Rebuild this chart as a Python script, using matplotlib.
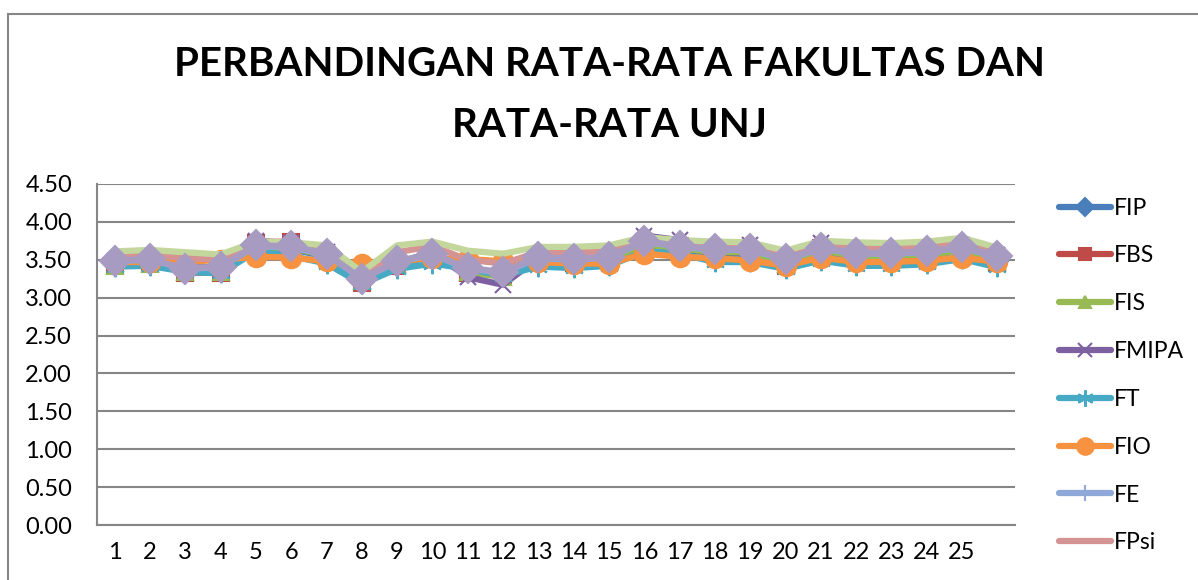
import matplotlib
matplotlib.use("Agg")
import matplotlib.pyplot as plt
from matplotlib.patches import Rectangle

# Data
categories = [str(i) for i in range(1, 26)] + [""]

fip = [3.44, 3.46, 3.35, 3.36, 3.64, 3.64, 3.54, 3.21, 3.43, 3.55, 3.36, 3.30, 3.47,
       3.46, 3.48, 3.70, 3.64, 3.58, 3.58, 3.45, 3.60, 3.52, 3.52, 3.55, 3.62, 3.48]
fbs = [3.43, 3.46, 3.33, 3.33, 3.72, 3.74, 3.56, 3.19, 3.42, 3.58, 3.32, 3.30, 3.50,
       3.46, 3.50, 3.74, 3.68, 3.60, 3.60, 3.42, 3.66, 3.56, 3.56, 3.52, 3.66, 3.46]
fis = [3.42, 3.45, 3.34, 3.34, 3.66, 3.66, 3.55, 3.22, 3.44, 3.56, 3.34, 3.27, 3.50,
       3.48, 3.50, 3.70, 3.65, 3.60, 3.60, 3.45, 3.62, 3.55, 3.55, 3.56, 3.62, 3.48]
fmipa = [3.48, 3.50, 3.40, 3.40, 3.75, 3.72, 3.60, 3.22, 3.46, 3.60, 3.27, 3.17, 3.52,
         3.50, 3.52, 3.82, 3.76, 3.66, 3.70, 3.50, 3.72, 3.60, 3.60, 3.62, 3.70, 3.56]
ft = [3.41, 3.42, 3.34, 3.32, 3.61, 3.55, 3.45, 3.18, 3.38, 3.45, 3.38, 3.29, 3.41,
      3.39, 3.42, 3.61, 3.58, 3.47, 3.47, 3.38, 3.49, 3.42, 3.42, 3.44, 3.51, 3.40]
fio = [3.47, 3.47, 3.47, 3.50, 3.54, 3.53, 3.48, 3.45, 3.49, 3.52, 3.51, 3.48, 3.47,
       3.45, 3.45, 3.58, 3.54, 3.52, 3.49, 3.42, 3.53, 3.47, 3.47, 3.49, 3.53, 3.47]
fe = [3.48, 3.50, 3.38, 3.40, 3.68, 3.66, 3.57, 3.25, 3.47, 3.57, 3.38, 3.33, 3.52,
      3.50, 3.53, 3.74, 3.67, 3.63, 3.63, 3.50, 3.65, 3.58, 3.58, 3.60, 3.66, 3.54]
fpsi = [3.56, 3.57, 3.52, 3.50, 3.74, 3.74, 3.62, 3.28, 3.60, 3.68, 3.50, 3.45, 3.60,
        3.60, 3.61, 3.76, 3.72, 3.68, 3.68, 3.55, 3.70, 3.66, 3.65, 3.67, 3.72, 3.62]
# two more series whose legend entries are cut off in the reference
extra_green = [3.61, 3.63, 3.60, 3.57, 3.74, 3.73, 3.69, 3.34, 3.69, 3.74, 3.62, 3.58, 3.67,
               3.67, 3.69, 3.80, 3.76, 3.74, 3.73, 3.62, 3.75, 3.73, 3.72, 3.74, 3.79, 3.66]
extra_lavender = [3.49, 3.51, 3.38, 3.41, 3.69, 3.68, 3.58, 3.25, 3.48, 3.58, 3.39, 3.34, 3.54,
                  3.51, 3.54, 3.75, 3.68, 3.64, 3.64, 3.51, 3.66, 3.59, 3.59, 3.61, 3.67, 3.55]

yticks = [0.0, 0.5, 1.0, 1.5, 2.0, 2.5, 3.0, 3.5, 4.0, 4.5]

plt.rcParams['font.family'] = ['Lato', 'DejaVu Sans']

fig = plt.figure(figsize=(11.98, 5.80), dpi=100)
W, H = 1198, 580

# chart area border (cut off at right and bottom)
fig.add_artist(Rectangle((8 / W, -0.05), 1.2, 1 - 14 / H + 0.05, transform=fig.transFigure,
                         fill=False, edgecolor='#868686', linewidth=1.5))

ax = fig.add_axes([97 / W, 1 - 525 / H, (1015 - 97) / W, (525 - 184) / H])

x = list(range(len(categories)))
series = [
    ("FIP", fip, '#4A7EBB', 'D', 11),
    ("FBS", fbs, '#BE4B48', 's', 11),
    ("FIS", fis, '#98B954', '^', 11),
    ("FMIPA", fmipa, '#7D60A0', 'x', 12),
    ("FT", ft, '#46AAC5', (6, 2, 0), 14),
    ("FIO", fio, '#F69240', 'o', 14),
    ("FE", fe, '#8EA9D8', '|', 14),
    ("FPsi", fpsi, '#D49494', '_', 12),
    ("_g", extra_green, '#C3D69B', 'None', 10),
    ("_l", extra_lavender, '#A89BC2', 'D', 15),
]
for name, vals, col, mk, ms in series:
    ax.plot(x, vals, color=col, linewidth=4.5, marker=mk, markersize=ms,
            markeredgecolor=col, markerfacecolor=col, markeredgewidth=1.5,
            solid_capstyle='round', label=name)

ax.set_xlim(-0.5, len(categories) - 0.5)
ax.set_ylim(0, 4.5)
ax.set_yticks(yticks)
ax.set_yticklabels(["%.2f" % v for v in yticks])
ax.set_xticks(x)
ax.set_xticklabels(categories)
ax.tick_params(axis='both', length=0, labelsize=17)
ax.tick_params(axis='y', pad=18)
ax.tick_params(axis='x', pad=12)
ax.grid(axis='y', color='#868686', linewidth=1.5)
ax.set_axisbelow(True)
for s in ['top', 'right']:
    ax.spines[s].set_visible(False)
for s in ['left', 'bottom']:
    ax.spines[s].set_color('#868686')
    ax.spines[s].set_linewidth(1.5)

fig.text(610 / W, 1 - 95 / H, "PERBANDINGAN RATA-RATA FAKULTAS DAN\nRATA-RATA UNJ",
         ha='center', va='center', fontsize=29, fontweight='bold', linespacing=1.8)

handles, labels = ax.get_legend_handles_labels()
leg = fig.legend(handles[:8], labels[:8], loc='upper left',
                 bbox_to_anchor=(1038 / W, 1 - 177 / H), frameon=False,
                 fontsize=16.5, handlelength=2.3, handletextpad=0.1,
                 labelspacing=1.17, markerscale=0.85)

fig.savefig("out.png", dpi=100)
